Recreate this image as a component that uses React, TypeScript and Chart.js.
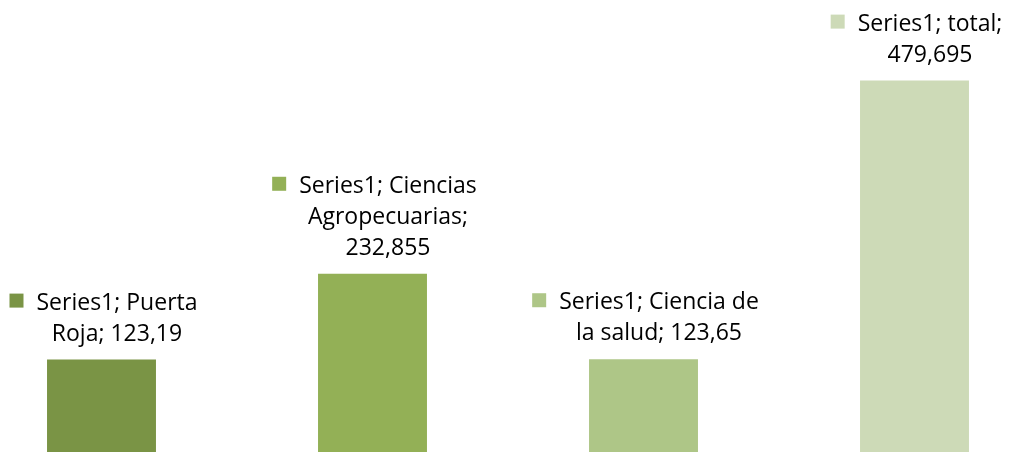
import React, { useEffect, useRef } from "react";
import { Chart, registerables } from "chart.js";

Chart.register(...registerables);

const seriesName = "Series1";
const categories = ["Puerta Roja", "Ciencias Agropecuarias", "Ciencia de la salud", "total"];
const values = [123.19, 232.855, 123.65, 479.695];
const barColors = ["#7a9445", "#93b056", "#aec687", "#cddab7"];
const yMin = 0;
const yMax = 582.7;

const LABEL_FONT = '23px "Open Sans"';
const WRAP_WIDTH = 212;

function fmt(v: number): string {
  return String(v).replace(".", ",");
}

function wrap(ctx: CanvasRenderingContext2D, text: string, maxW: number): string[] {
  const words = text.split(" ");
  const lines: string[] = [];
  let cur = "";
  for (const w of words) {
    const test = cur ? cur + " " + w : w;
    if (cur && ctx.measureText(test).width > maxW) {
      lines.push(cur);
      cur = w;
    } else {
      cur = test;
    }
  }
  if (cur) lines.push(cur);
  return lines;
}

const labelPlugin = {
  id: "excelLabels",
  afterDatasetsDraw(chart: any) {
    const ctx: CanvasRenderingContext2D = chart.ctx;
    const meta = chart.getDatasetMeta(0);
    ctx.save();
    ctx.font = LABEL_FONT;
    ctx.textAlign = "center";
    ctx.textBaseline = "alphabetic";
    meta.data.forEach((bar: any, i: number) => {
      const text = `${seriesName}; ${categories[i]}; ${fmt(values[i])}`;
      const lines = wrap(ctx, text, WRAP_WIDTH);
      const maxW = Math.max(...lines.map((l) => ctx.measureText(l).width));
      const sq = 14;
      const gap = 13;
      const blockW = sq + gap + maxW;
      const left = bar.x + 2 - blockW / 2;
      const textCx = left + sq + gap + maxW / 2;
      const lh = 31;
      const lastBase = bar.y - 19;
      const firstBase = lastBase - (lines.length - 1) * lh;
      ctx.fillStyle = barColors[i];
      ctx.fillRect(left, firstBase - 16, sq, sq);
      ctx.fillStyle = "#000000";
      lines.forEach((l, k) => ctx.fillText(l, textCx, firstBase + k * lh));
    });
    ctx.restore();
  },
};

export default function App() {
  const ref = useRef<HTMLCanvasElement>(null);
  useEffect(() => {
    if (!ref.current) return;
    const chart = new Chart(ref.current, {
      type: "bar",
      data: {
        labels: categories,
        datasets: [
          {
            label: seriesName,
            data: values,
            backgroundColor: barColors,
            borderWidth: 0,
            categoryPercentage: 1,
            barPercentage: 0.402,
          },
        ],
      },
      options: {
        responsive: false,
        animation: false,
        devicePixelRatio: 1,
        layout: { padding: 0 },
        plugins: {
          legend: { display: false },
          tooltip: { enabled: false },
          title: { display: false },
        },
        scales: {
          x: { display: false, grid: { display: false } },
          y: { display: false, min: yMin, max: yMax, grid: { display: false } },
        },
      },
      plugins: [labelPlugin],
    });
    return () => chart.destroy();
  }, []);
  return (
    <div
      style={{
        position: "fixed",
        left: 0,
        top: 0,
        width: 1011,
        height: 452,
        overflow: "hidden",
        background: "#ffffff",
      }}
    >
      <canvas
        ref={ref}
        width={1084}
        height={456}
        style={{ position: "absolute", left: -34, top: 0, display: "block" }}
      />
    </div>
  );
}
